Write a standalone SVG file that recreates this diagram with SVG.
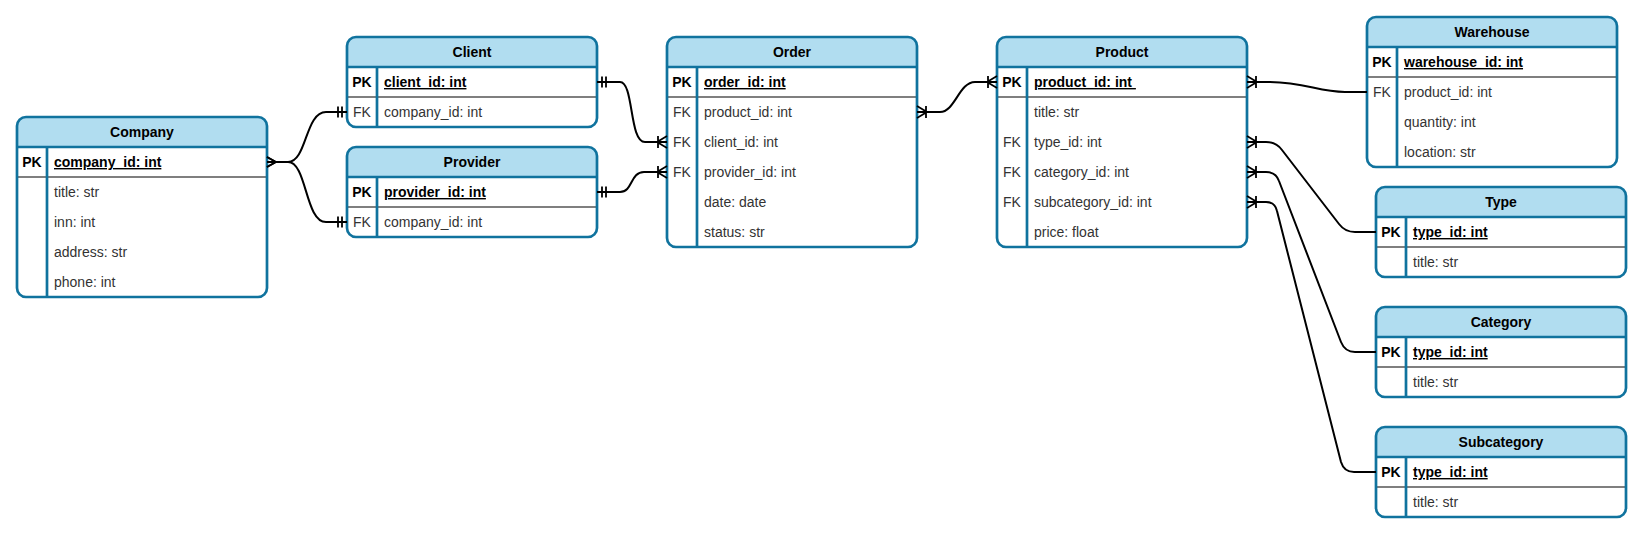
<svg xmlns="http://www.w3.org/2000/svg" width="1643" height="534" viewBox="0 0 1643 534">
<style>
.body{fill:#ffffff;stroke:none}
.head{fill:#b1ddf0;stroke:none}
.frame{fill:none;stroke:#10739e;stroke-width:2.7}
.blue{stroke:#10739e;stroke-width:2.7}
.sep{stroke:#000000;stroke-width:1.2}
text{font-family:"Liberation Sans",Arial,Helvetica,sans-serif;font-size:14px}
.title{font-weight:bold;text-anchor:middle;fill:#000}
.pk{font-weight:bold;text-anchor:middle;fill:#000}
.fk{text-anchor:middle;fill:#333}
.pkf{font-weight:bold;text-decoration:underline;fill:#000}
.f{fill:#333}
.edge{fill:none;stroke:#000;stroke-width:2}
.mk{fill:none;stroke:#000;stroke-width:1.8}
</style>
<defs>
<marker id="oneMany" markerUnits="userSpaceOnUse" markerWidth="16" markerHeight="16" viewBox="-13 -8 16 16" refX="0" refY="0" orient="auto-start-reverse" overflow="visible">
<path class="mk" d="M-10,0 L0,-6 M-10,0 L0,6 M-10,0 L0,0 M-9,-6 V6"/>
</marker>
<marker id="mandOne" markerUnits="userSpaceOnUse" markerWidth="16" markerHeight="16" viewBox="-13 -8 16 16" refX="0" refY="0" orient="auto-start-reverse" overflow="visible">
<path class="mk" d="M-5,-5.5 V5.5 M-9,-5.5 V5.5"/>
</marker>
<marker id="many" markerUnits="userSpaceOnUse" markerWidth="16" markerHeight="16" viewBox="-13 -8 16 16" refX="0" refY="0" orient="auto-start-reverse" overflow="visible">
<path class="mk" d="M-9,0 L0,-5 M-9,0 L0,5 M-9,0 L0,0"/>
</marker>
</defs>

<g id="company" transform="translate(17,117)">
<rect class="body" width="250" height="180" rx="9"/>
<path class="head" d="M0,30 V9 A9,9 0 0 1 9,0 H241 A9,9 0 0 1 250,9 V30 Z"/>
<line class="sep" x1="0" y1="60" x2="250" y2="60"/>
<line class="blue" x1="0" y1="30" x2="250" y2="30"/>
<line class="blue" x1="30" y1="30" x2="30" y2="180"/>
<rect class="frame" width="250" height="180" rx="9"/>
<text class="title" x="125" y="20">Company</text>
<text class="pk" x="15" y="50">PK</text>
<text class="pkf" x="37" y="50">company_id: int</text>
<text class="f" x="37" y="80">title: str</text>
<text class="f" x="37" y="110">inn: int</text>
<text class="f" x="37" y="140">address: str</text>
<text class="f" x="37" y="170">phone: int</text>
</g>

<g id="client" transform="translate(347,37)">
<rect class="body" width="250" height="90" rx="9"/>
<path class="head" d="M0,30 V9 A9,9 0 0 1 9,0 H241 A9,9 0 0 1 250,9 V30 Z"/>
<line class="sep" x1="0" y1="60" x2="250" y2="60"/>
<line class="blue" x1="0" y1="30" x2="250" y2="30"/>
<line class="blue" x1="30" y1="30" x2="30" y2="90"/>
<rect class="frame" width="250" height="90" rx="9"/>
<text class="title" x="125" y="20">Client</text>
<text class="pk" x="15" y="50">PK</text>
<text class="pkf" x="37" y="50">client_id: int</text>
<text class="fk" x="15" y="80">FK</text>
<text class="f" x="37" y="80">company_id: int</text>
</g>

<g id="provider" transform="translate(347,147)">
<rect class="body" width="250" height="90" rx="9"/>
<path class="head" d="M0,30 V9 A9,9 0 0 1 9,0 H241 A9,9 0 0 1 250,9 V30 Z"/>
<line class="sep" x1="0" y1="60" x2="250" y2="60"/>
<line class="blue" x1="0" y1="30" x2="250" y2="30"/>
<line class="blue" x1="30" y1="30" x2="30" y2="90"/>
<rect class="frame" width="250" height="90" rx="9"/>
<text class="title" x="125" y="20">Provider</text>
<text class="pk" x="15" y="50">PK</text>
<text class="pkf" x="37" y="50">provider_id: int</text>
<text class="fk" x="15" y="80">FK</text>
<text class="f" x="37" y="80">company_id: int</text>
</g>

<g id="order" transform="translate(667,37)">
<rect class="body" width="250" height="210" rx="9"/>
<path class="head" d="M0,30 V9 A9,9 0 0 1 9,0 H241 A9,9 0 0 1 250,9 V30 Z"/>
<line class="sep" x1="0" y1="60" x2="250" y2="60"/>
<line class="blue" x1="0" y1="30" x2="250" y2="30"/>
<line class="blue" x1="30" y1="30" x2="30" y2="210"/>
<rect class="frame" width="250" height="210" rx="9"/>
<text class="title" x="125" y="20">Order</text>
<text class="pk" x="15" y="50">PK</text>
<text class="pkf" x="37" y="50">order_id: int</text>
<text class="fk" x="15" y="80">FK</text>
<text class="f" x="37" y="80">product_id: int</text>
<text class="fk" x="15" y="110">FK</text>
<text class="f" x="37" y="110">client_id: int</text>
<text class="fk" x="15" y="140">FK</text>
<text class="f" x="37" y="140">provider_id: int</text>
<text class="f" x="37" y="170">date: date</text>
<text class="f" x="37" y="200">status: str</text>
</g>

<g id="product" transform="translate(997,37)">
<rect class="body" width="250" height="210" rx="9"/>
<path class="head" d="M0,30 V9 A9,9 0 0 1 9,0 H241 A9,9 0 0 1 250,9 V30 Z"/>
<line class="sep" x1="0" y1="60" x2="250" y2="60"/>
<line class="blue" x1="0" y1="30" x2="250" y2="30"/>
<line class="blue" x1="30" y1="30" x2="30" y2="210"/>
<rect class="frame" width="250" height="210" rx="9"/>
<text class="title" x="125" y="20">Product</text>
<text class="pk" x="15" y="50">PK</text>
<text class="pkf" x="37" y="50">product_id: int&#160;</text>
<text class="f" x="37" y="80">title: str</text>
<text class="fk" x="15" y="110">FK</text>
<text class="f" x="37" y="110">type_id: int</text>
<text class="fk" x="15" y="140">FK</text>
<text class="f" x="37" y="140">category_id: int</text>
<text class="fk" x="15" y="170">FK</text>
<text class="f" x="37" y="170">subcategory_id: int</text>
<text class="f" x="37" y="200">price: float</text>
</g>

<g id="warehouse" transform="translate(1367,17)">
<rect class="body" width="250" height="150" rx="9"/>
<path class="head" d="M0,30 V9 A9,9 0 0 1 9,0 H241 A9,9 0 0 1 250,9 V30 Z"/>
<line class="sep" x1="0" y1="60" x2="250" y2="60"/>
<line class="blue" x1="0" y1="30" x2="250" y2="30"/>
<line class="blue" x1="30" y1="30" x2="30" y2="150"/>
<rect class="frame" width="250" height="150" rx="9"/>
<text class="title" x="125" y="20">Warehouse</text>
<text class="pk" x="15" y="50">PK</text>
<text class="pkf" x="37" y="50">warehouse_id: int</text>
<text class="fk" x="15" y="80">FK</text>
<text class="f" x="37" y="80">product_id: int</text>
<text class="f" x="37" y="110">quantity: int</text>
<text class="f" x="37" y="140">location: str</text>
</g>

<g id="type" transform="translate(1376,187)">
<rect class="body" width="250" height="90" rx="9"/>
<path class="head" d="M0,30 V9 A9,9 0 0 1 9,0 H241 A9,9 0 0 1 250,9 V30 Z"/>
<line class="sep" x1="0" y1="60" x2="250" y2="60"/>
<line class="blue" x1="0" y1="30" x2="250" y2="30"/>
<line class="blue" x1="30" y1="30" x2="30" y2="90"/>
<rect class="frame" width="250" height="90" rx="9"/>
<text class="title" x="125" y="20">Type</text>
<text class="pk" x="15" y="50">PK</text>
<text class="pkf" x="37" y="50">type_id: int</text>
<text class="f" x="37" y="80">title: str</text>
</g>

<g id="category" transform="translate(1376,307)">
<rect class="body" width="250" height="90" rx="9"/>
<path class="head" d="M0,30 V9 A9,9 0 0 1 9,0 H241 A9,9 0 0 1 250,9 V30 Z"/>
<line class="sep" x1="0" y1="60" x2="250" y2="60"/>
<line class="blue" x1="0" y1="30" x2="250" y2="30"/>
<line class="blue" x1="30" y1="30" x2="30" y2="90"/>
<rect class="frame" width="250" height="90" rx="9"/>
<text class="title" x="125" y="20">Category</text>
<text class="pk" x="15" y="50">PK</text>
<text class="pkf" x="37" y="50">type_id: int</text>
<text class="f" x="37" y="80">title: str</text>
</g>

<g id="subcategory" transform="translate(1376,427)">
<rect class="body" width="250" height="90" rx="9"/>
<path class="head" d="M0,30 V9 A9,9 0 0 1 9,0 H241 A9,9 0 0 1 250,9 V30 Z"/>
<line class="sep" x1="0" y1="60" x2="250" y2="60"/>
<line class="blue" x1="0" y1="30" x2="250" y2="30"/>
<line class="blue" x1="30" y1="30" x2="30" y2="90"/>
<rect class="frame" width="250" height="90" rx="9"/>
<text class="title" x="125" y="20">Subcategory</text>
<text class="pk" x="15" y="50">PK</text>
<text class="pkf" x="37" y="50">type_id: int</text>
<text class="f" x="37" y="80">title: str</text>
</g>

<g id="connectors">
<path class="edge" d="M267,162 H288 C307,162 305,112 326,112 H347" marker-start="url(#many)" marker-end="url(#mandOne)"/>
<path class="edge" d="M267,162 H288 C307,162 305,222 326,222 H347" marker-start="url(#many)" marker-end="url(#mandOne)"/>
<path class="edge" d="M597,82 H620 C634,82 629,142 645,142 H667" marker-start="url(#mandOne)" marker-end="url(#oneMany)"/>
<path class="edge" d="M597,192 H620 C633,192 630,172 644,172 H667" marker-start="url(#mandOne)" marker-end="url(#oneMany)"/>
<path class="edge" d="M917,112 H940 C955,112 959,82 975,82 H997" marker-start="url(#oneMany)" marker-end="url(#oneMany)"/>
<path class="edge" d="M1247,82 H1268 C1305,82 1318,92 1345,92 H1367" marker-start="url(#oneMany)"/>
<path class="edge" d="M1247,142 H1266 Q1276,142 1282,150 L1339,224 Q1345,232 1355,232 H1376" marker-start="url(#oneMany)"/>
<path class="edge" d="M1247,172 H1266 Q1276,172 1279,181 L1341,342 Q1345,352 1355,352 H1376" marker-start="url(#oneMany)"/>
<path class="edge" d="M1247,202 H1266 Q1275,202 1277,211 L1341,462 Q1344,472 1354,472 H1376" marker-start="url(#oneMany)"/>
</g>
</svg>
